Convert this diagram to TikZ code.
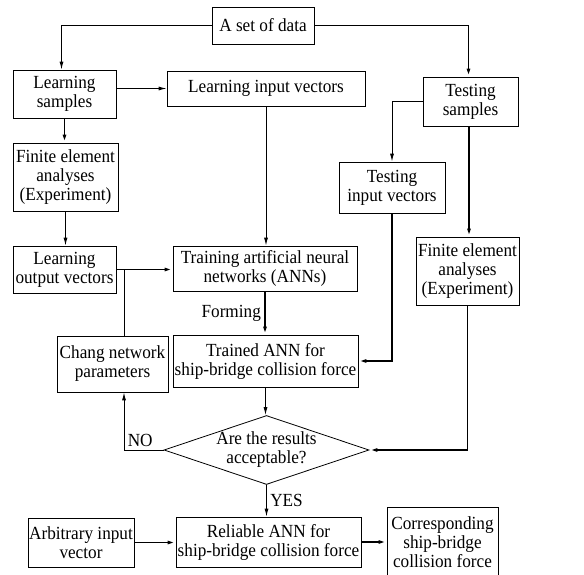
\documentclass[tikz,border=0pt]{standalone}
\usepackage{fontspec}
\setmainfont[FakeStretch=0.93]{Liberation Serif}
\usepackage{tikz}
\usetikzlibrary{arrows.meta,positioning,shapes.geometric}

\begin{document}
\begin{tikzpicture}[x=1pt,y=-1pt,>={Latex[length=8pt,width=4pt]},
   font=\fontsize{18.5}{19}\selectfont,
   bx/.style={draw,line width=0.8pt,inner sep=1pt,align=center},
   dm/.style={diamond,draw,line width=0.8pt,inner sep=-2pt,aspect=2.97,align=center},
   ln/.style={->,line width=0.9pt},
   tk/.style={->,line width=1.6pt}]
  \useasboundingbox (0,0) rectangle (584,575);
  \clip (0,0) rectangle (584,575);
  \node[bx,minimum width=102pt,minimum height=37pt] (data) at (263,25.5) {A set of data};
  \node[bx,minimum width=103pt,minimum height=48pt] (ls) at (64.5,94) {Learning\\samples};
  \node[bx,minimum width=198pt,minimum height=35pt] (li) at (266,88.5) {Learning input vectors};
  \node[bx,minimum width=95pt,minimum height=49pt] (ts) at (470.5,101.5) {Testing\\samples};
  \node[bx,minimum width=106pt,minimum height=51pt] (ti) at (392,187.5) {Testing\\input vectors};
  \node[bx,minimum width=105pt,minimum height=68pt] (fe1) at (65.5,177) {Finite element\\analyses\\(Experiment)};
  \node[bx,minimum width=103pt,minimum height=47pt] (lo) at (64.5,269.5) {Learning\\output vectors};
  \node[bx,minimum width=184pt,minimum height=45pt] (tr) at (265,268.5) {Training artificial neural\\networks (ANNs)};
  \node[bx,minimum width=111pt,minimum height=56pt] (ch) at (112.5,364) {Chang network\\parameters};
  \node[bx,minimum width=185pt,minimum height=52pt] (ta) at (265.5,361) {Trained ANN for\\ship-bridge collision force};
  \node[bx,minimum width=103pt,minimum height=68pt] (fe2) at (467.5,271) {Finite element\\analyses\\(Experiment)};
  \node[dm,minimum width=205pt,minimum height=69pt] (ac) at (266.5,450) {Are the results\\acceptable?};
  \node[bx,minimum width=185pt,minimum height=50pt] (re) at (268.5,542) {Reliable ANN for\\ship-bridge collision force};
  \node[bx,minimum width=106pt,minimum height=49pt] (ar) at (81,542.5) {Arbitrary input\\vector};
  \node[bx,minimum width=111pt,minimum height=70pt] (co) at (442.5,542) {Corresponding\\ship-bridge\\collision force};
  \coordinate (jn) at (124,269.5);
  % connectors
  \draw[ln] (data.west) -| ([xshift=-3pt]ls.north);
  \draw[tk] (data.east) -| ([xshift=-2pt]ts.north);
  \draw[ln] (ls.east|-li.west) -- (li.west);
  \draw[tk] (ls.south) -- (ls.south|-fe1.north);
  \draw[ln] (ts.west) -| (ti.north);
  \draw[tk] ([xshift=-1.5pt]ts.south) -- ([xshift=-1.5pt]ts.south|-fe2.north);
  \draw[ln] (li.south) -- (li.south|-tr.north);
  \draw[ln] (fe1.south) -- (fe1.south|-lo.north);
  \draw[tk] (lo.east) -- (lo.east-|tr.west);
  \draw[line width=0.9pt] (jn|-ch.north) -- (jn);
  \draw[tk] (tr.south) -- node[left]{Forming} (tr.south|-ta.north);
  \draw[tk] (ti.south) |- (ta.east);
  \draw[ln] (ta.south) -- (ta.south|-ac.north);
  \draw[tk] (fe2.south) |- (ac.east);
  \draw[ln] (ac.west) -| node[pos=0.5,above right]{NO} (jn|-ch.south);
  \draw[ln] (ac.south) -- node[right]{YES} (ac.south|-re.north);
  \draw[tk] (ar.east) -- (ar.east-|re.west);
  \draw[tk] (re.east) -- (re.east-|co.west);
\end{tikzpicture}
\end{document}
